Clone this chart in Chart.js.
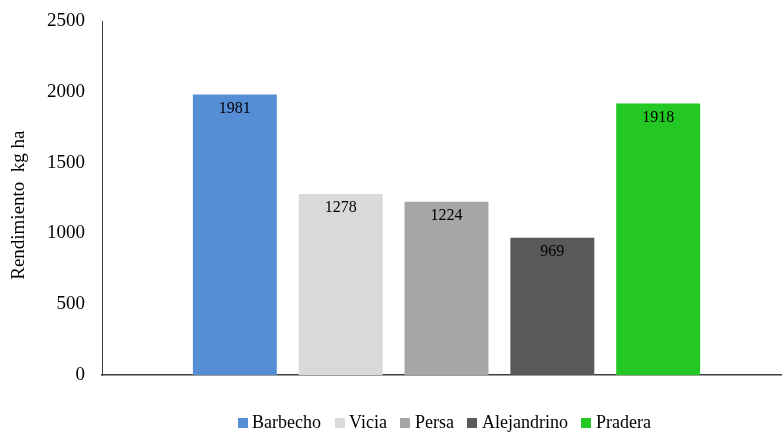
<!DOCTYPE html>
<html>
<head>
<meta charset="utf-8">
<script src="https://cdn.jsdelivr.net/npm/chart.js@4.4.0/dist/chart.umd.min.js"></script>
<style>
  html, body { margin: 0; padding: 0; background: #fff; overflow: hidden; }
  #wrap { width: 782px; height: 432px; overflow: hidden; }
  canvas { display: block; }
</style>
</head>
<body>
<div id="wrap"><canvas id="yieldChart" width="791" height="442"></canvas></div>
<script>
// ── DATA ────────────────────────────────────────────────────────────
var categories = [""];
var seriesNames = ["Barbecho", "Vicia", "Persa", "Alejandrino", "Pradera"];
var yieldValues = [1981, 1278, 1224, 969, 1918];
var yTicks = [0, 500, 1000, 1500, 2000, 2500];

var COLORS = ["#558ed5", "#d9d9d9", "#a6a6a6", "#595959", "#24c824"];
var SERIF = "'Liberation Serif', 'Times New Roman', serif";

Chart.defaults.font.family = SERIF;
Chart.defaults.color = "#000";

// ── DATASETS ────────────────────────────────────────────────────────
var datasets = [];
for (var i = 0; i < seriesNames.length; i++) {
    datasets.push({
        label: seriesNames[i],
        data: [yieldValues[i]],
        backgroundColor: COLORS[i],
        borderWidth: 0,
        categoryPercentage: 0.768,
        barPercentage: 0.793
    });
}

// small square swatches for the legend (tighter box-to-text gap)
function swatch(color) {
    var c = document.createElement("canvas");
    c.width = 10;
    c.height = 10;
    var g = c.getContext("2d");
    g.fillStyle = color;
    g.fillRect(0, 0, 10, 10);
    return c;
}
var swatches = COLORS.map(swatch);

// value printed just inside the top of each bar
var valueLabels = {
    id: "valueLabels",
    afterDatasetsDraw: function (chart) {
        var ctx = chart.ctx;
        ctx.save();
        ctx.font = "16px " + SERIF;
        ctx.fillStyle = "#000";
        ctx.textAlign = "center";
        ctx.textBaseline = "middle";
        chart.data.datasets.forEach(function (ds, i) {
            var bar = chart.getDatasetMeta(i).data[0];
            ctx.fillText(String(ds.data[0]), bar.x, bar.y + 14);
        });
        ctx.restore();
    }
};

new Chart(document.getElementById("yieldChart"), {
    type: "bar",
    data: { labels: categories, datasets: datasets },
    plugins: [valueLabels],
    options: {
        responsive: false,
        animation: false,
        layout: { padding: { top: 21, right: 0, bottom: 0, left: 0 } },
        plugins: {
            tooltip: { enabled: false },
            legend: {
                position: "bottom",
                fullSize: false,
                labels: {
                    font: { family: SERIF, size: 18 },
                    color: "#000",
                    usePointStyle: true,
                    boxWidth: 1,
                    boxHeight: 10,
                    padding: 18,
                    generateLabels: function (chart) {
                        var items = Chart.defaults.plugins.legend.labels.generateLabels(chart);
                        items.forEach(function (it, k) { it.pointStyle = swatches[k]; });
                        return items;
                    }
                }
            }
        },
        scales: {
            x: {
                grid: { display: false, drawTicks: false },
                border: { color: "#3f3f3f", width: 1.5 },
                ticks: { display: false },
                afterFit: function (s) { s.height = 21; }
            },
            y: {
                min: 0,
                max: 2500,
                afterBuildTicks: function (s) {
                    s.ticks = yTicks.map(function (v) { return { value: v }; });
                },
                grid: { display: false, drawTicks: false },
                border: { color: "#3f3f3f", width: 1 },
                ticks: {
                    font: { family: SERIF, size: 19 },
                    color: "#000",
                    padding: 17,
                    callback: function (v) { return String(v); }
                },
                title: {
                    display: true,
                    text: "Rendimiento  kg ha   ",
                    font: { family: SERIF, size: 19 },
                    color: "#000",
                    padding: { top: 8, bottom: 0 }
                },
                afterFit: function (s) {
                    s.width = 102;
                    s.paddingTop = 0;
                    s.paddingBottom = 0;
                }
            }
        }
    }
});
</script>
</body>
</html>
